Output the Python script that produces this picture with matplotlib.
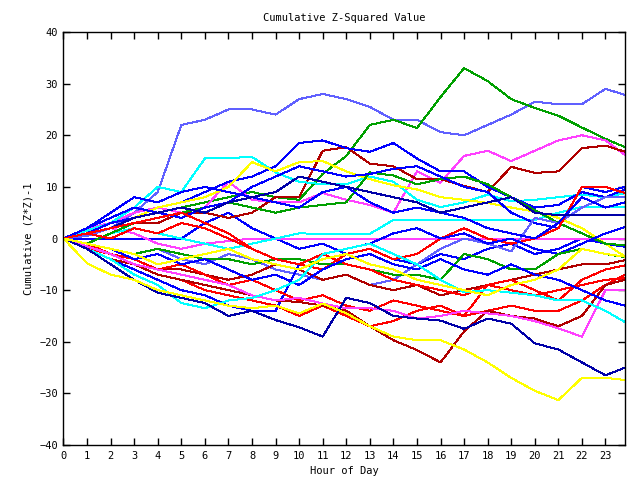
import matplotlib
matplotlib.use("Agg")
import matplotlib.pyplot as plt

# hour grid the values were read at (last point is the 23:50 sample)
hours = list(range(24)) + [23.83]

# colours (gnuplot-like palette)
BLUE = '#0000ff'
MBLUE = '#6060ff'
DBLUE = '#0000a8'
RED = '#ff0000'
DRED = '#b00000'
GREEN = '#00a000'
CYAN = '#00ffff'
MAGENTA = '#ff40ff'
YELLOW = '#ffff00'

# cumulative (z*z)-1 per series at each hour
mblue_top = [0, 0.5, 2, 5, 9, 22, 23, 25, 25, 24, 27, 28, 27, 25.5, 23, 23, 20.6, 20, 22, 24, 26.5, 26, 26, 29, 27.8]
green_top = [0, 1, 2, 4, 5, 6, 7, 8, 9, 8, 7.5, 12.5, 16, 22, 23, 21.4, 27.4, 33, 30.5, 27, 25.3, 23.8, 21.5, 19.3, 17.7]
magenta_up = [0, 2, 3, 5, 6, 5, 6, 11, 7.5, 7, 7, 8.8, 7.5, 6.5, 5, 13, 10.8, 16, 17, 15, 17, 19, 20, 19, 16.2]
dred_up = [0, 1, 2, 3, 3, 5, 5, 4, 5, 8, 8, 17, 17.7, 14.5, 14, 11.5, 11.5, 10.2, 9, 13.9, 12.7, 13, 17.5, 18, 16.8]
cyan_up = [0, 1.5, 3, 6, 10, 9, 15.5, 15.6, 15.8, 12.8, 11, 10.5, 10.5, 12, 11, 7.5, 6.1, 7, 8.5, 7.2, 7.5, 8, 8.5, 8, 8.8]
blue_up = [0, 1, 3, 4, 6, 7, 9, 11, 12, 14, 18.5, 19, 17.5, 16.8, 18.5, 15.5, 13, 13, 10, 8, 6, 6.5, 9, 8, 9.5]
yellow_up = [0, 1, 2, 4, 6, 7, 8, 10, 14.8, 13, 14.8, 15, 13, 11.5, 10.3, 9.5, 8, 7.5, 6.9, 6, 5.2, 4, 2, -1, -3.5]
green_mid = [0, -1, 1, 3, 4, 5, 6, 7, 6, 5, 6, 6.5, 7, 12.8, 12.2, 10.5, 11.5, 12, 10.5, 8, 5.5, 3, 1, -1, -1.3]
blue_b2 = [0, 2, 4, 6, 5, 4, 6, 7, 10, 12, 14, 13, 12, 12.5, 13.5, 14, 12, 10, 9, 5, 3, 2, 10, 9, 10]
mblue_b2 = [0, -1, -2, -3, -2, -4, -5, -3, -4, -6, -7, -8, -7, -9, -8, -5, -2, 0, -1, -2.5, 4, 3, 6, 8, 8]
red_r1 = [0, 1, 0, 2, 1, 3, 2, 0, -2, -4, -5, -6, -3, -2, -4, -3, 0, 2, 0, -1, 0, 2, 10, 10, 8.8]
blue_b3 = [0, 2, 5, 8, 7, 9, 10, 9, 8, 7, 6, 9, 10, 7, 5, 6, 5, 4, 2, 1, 0, 3, 8, 6, 7]
dblue_flat = [0, 1, 2, 4, 5, 6, 5, 7, 8, 9, 12, 11, 10, 9, 8, 7, 5, 6, 7, 8, 5, 4.5, 4.5, 4.5, 4.5]
blue_jump = [0, -2, -4, -6, -8, -10, -11, -13, -14, -14, -5, -3, -2, -1, 1, 2, 0, 1, -1, 0, -2, -3, -1, 1, 2.2]
cyan_flat = [0, -1, 1, 2, 1, 0, -1, -2, -1, 0, 1, 0.9, 0.9, 0.9, 3.6, 3.6, 3.6, 3.6, 3.6, 3.6, 3.6, 5, 6.1, 6.1, 6.1]
magenta_flat = [0, 1, 2, 1, -1, -2, -1, -0.5, 0, 0, 0, 0, 0, 0, 0, 0, 0, 0, 0, 0, 0, 0, 0, 0, 0]
blue_flat = [0, 0, 0, 0, 0, 0, 3, 5, 2, 0, -2, -1, -3, -2, -4, -5, -3, -4, -2, -1, -3, -2, 0, -1, -1.6]
green_low = [0, -1, -2, -3, -2, -3, -4, -4, -5, -4, -4, -5, -5, -6, -7, -7, -8, -3, -4, -6, -6, -3, -2, -3, -3.6]
dred_mid = [0, -2, -3, -5, -6, -6, -7, -8, -7, -5, -6, -8, -7, -9, -10, -9, -11, -10, -9, -8, -7, -6, -5, -5, -4.2]
red_r2 = [0, -1, -3, -4, -6, -5, -7, -9, -8, -10, -12, -11, -13, -14, -12, -13, -14, -15, -9, -8, -10, -12, -8, -6, -5.2]
red_r3 = [0, -2, -3, -5, -7, -8, -10, -11, -12, -13, -15, -13, -15, -17, -16, -14, -13, -15, -14, -13, -14, -14, -12, -9, -7]
red_r4 = [0, 1, 2, 3, 4, 5, 3, 1, -2, -4, -5, -3, -5, -6, -8, -9, -10, -11, -9, -10, -11, -10, -9, -8, -7.7]
dred_low = [0, -2, -4, -5, -7, -8, -9, -10, -11, -12, -12.3, -13, -14, -17, -19.7, -21.6, -24, -18, -14, -15, -15.5, -17, -15, -9, -8]
magenta_low = [0, -1.5, -3, -5, -6, -7, -8, -9, -11, -12, -11.5, -12.6, -13.5, -13.5, -14, -15.5, -15, -14, -14.5, -15, -16, -17.4, -19, -10, -10]
blue_low = [0, -1, -2, -4, -3, -5, -4, -6, -8, -7, -9, -6, -4, -3, -5, -6, -4, -6, -7, -5, -7, -8, -10, -12, -13]
cyan_low = [0, -2, -4, -7, -9, -12.5, -13.5, -12, -11.5, -10, -8, -3, -2, -1, -3, -5, -8, -10.4, -10, -10.5, -11, -12, -12, -14, -16.2]
dblue_low = [0, -2, -5, -8, -10.5, -11.5, -12.5, -15, -14, -15.8, -17.2, -19, -11.5, -12.5, -15, -15.5, -15.9, -17.5, -15.5, -16.5, -20.3, -21.5, -24, -26.5, -25]
yellow_low = [0, -4.8, -7, -8, -10, -11, -12, -13, -13.5, -13, -14.5, -12.6, -14.5, -17, -19, -19.7, -19.7, -21.5, -24, -27, -29.5, -31.3, -27, -27, -27.4]
yellow_mid = [0, -1, -2, -3, -5, -4, -3, -2, -4, -5, -6, -4, -3, -5, -6, -8, -9, -10, -11, -9, -8, -6, -2, -3, -3.5]

series = [
    (blue_flat, BLUE), (magenta_flat, MAGENTA), (cyan_flat, CYAN),
    (mblue_top, MBLUE), (green_top, GREEN), (magenta_up, MAGENTA),
    (dred_up, DRED), (cyan_up, CYAN), (blue_up, BLUE),
    (yellow_up, YELLOW), (green_mid, GREEN), (blue_b2, BLUE),
    (mblue_b2, MBLUE), (red_r1, RED), (blue_b3, BLUE),
    (dblue_flat, DBLUE), (blue_jump, BLUE), (green_low, GREEN),
    (dred_mid, DRED), (red_r2, RED), (red_r3, RED), (red_r4, RED),
    (dred_low, DRED), (magenta_low, MAGENTA), (blue_low, BLUE),
    (cyan_low, CYAN), (dblue_low, DBLUE), (yellow_low, YELLOW),
    (yellow_mid, YELLOW),
]

plt.rcParams['font.family'] = 'DejaVu Sans Mono'

fig = plt.figure(figsize=(6.4, 4.8), dpi=100)
ax = fig.add_axes([0.0992, 0.0729, 0.8774, 0.8604])

for vals, col in series:
    ax.plot(hours, vals, color=col, linewidth=0.72, antialiased=False)

ax.set_xlim(0, 23.83)
ax.set_ylim(-40, 40)
ax.set_xticks(range(24))
ax.set_yticks(range(-40, 41, 10))
ax.tick_params(direction='in', length=5, width=1, top=True, right=True,
               labelsize=7.5, pad=4)
for sp in ax.spines.values():
    sp.set_linewidth(1)

ax.set_title("Cumulative Z-Squared Value", fontsize=7.5, pad=8)
ax.set_xlabel("Hour of Day", fontsize=7.5, labelpad=4)
ax.set_ylabel("Cumulative (Z*Z)-1", fontsize=7.5, labelpad=4)

plt.savefig("out.png", dpi=100)
